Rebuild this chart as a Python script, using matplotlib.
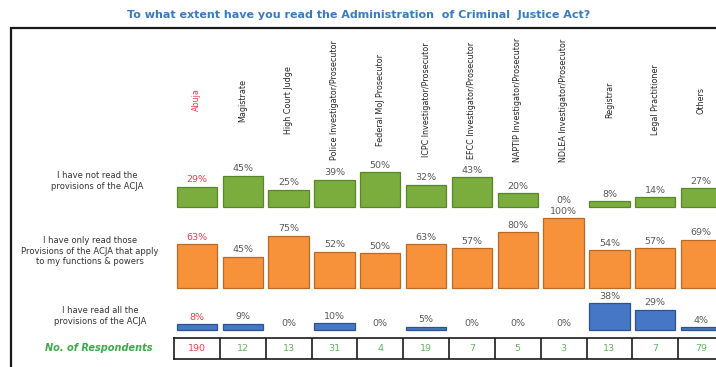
import matplotlib
matplotlib.use("Agg")
import matplotlib.pyplot as plt
from matplotlib.patches import Rectangle
from matplotlib.transforms import blended_transform_factory

# ---- data -------------------------------------------------------------
categories = ["Abuja", "Magistrate", "High Court Judge", "Police Investigator/Prosecutor",
              "Federal MoJ Prosecutor", "ICPC Investigator/Prosecutor",
              "EFCC Investigator/Prosecutor", "NAPTIP Investigator/Prosecutor",
              "NDLEA Investigator/Prosecutor", "Registrar", "Legal Practitioner", "Others"]
not_read = [29, 45, 25, 39, 50, 32, 43, 20, 0, 8, 14, 27]
read_some = [63, 45, 75, 52, 50, 63, 57, 80, 100, 54, 57, 69]
read_all = [8, 9, 0, 10, 0, 5, 0, 0, 0, 38, 29, 4]
respondents = [190, 12, 13, 31, 4, 19, 7, 5, 3, 13, 7, 79]

row_labels = ["I have not read the\nprovisions of the ACJA",
              "I have only read those\nProvisions of the ACJA that apply\nto my functions & powers",
              "I have read all the\nprovisions of the ACJA"]
title = "To what extent have you read the Administration  of Criminal  Justice Act?"

# ---- styling ------------------------------------------------------------
W, H = 716, 367
fills = ["#7aad3d", "#f7923a", "#4677c6"]
edges = ["#5a8529", "#b96a28", "#2c5290"]
label_grey = "#595959"
accent_red = "#e8404c"
resp_green = "#5cb85c"

fig = plt.figure(figsize=(W / 100, H / 100), dpi=100)
fig.patch.set_facecolor("white")


def fx(px):
    return px / W


def fy(py):
    return 1 - py / H


# plot area shared x geometry (in pixels)
left_px, right_px = 174, 724
n = len(categories)

# outer frame
fig.add_artist(Rectangle((fx(11), fy(400)), fx(760), fy(28) - fy(400),
                         transform=fig.transFigure, fill=False,
                         edgecolor="#1a1a1a", linewidth=1.6))

fig.text(fx(359), fy(15), title, ha="center", va="center",
         fontsize=8, fontweight="bold", color="#3a7bbf")

# three bar rows; each axis spans 0..100 % over 70 px
baselines = [207, 288, 330]
series = [not_read, read_some, read_all]
row_label_pos = [(97, 181), (90, 251), (100, 316)]
axes = []
for k, (base, vals) in enumerate(zip(baselines, series)):
    ax = fig.add_axes([fx(left_px), fy(base), fx(right_px - left_px), fy(base - 70) - fy(base)])
    ax.set_xlim(-0.5, n - 0.5)
    ax.set_ylim(0, 100)
    ax.axis("off")
    ax.patch.set_alpha(0)
    xs = list(range(n))
    ax.bar(xs, vals, width=0.88, color=fills[k], edgecolor=edges[k],
           linewidth=[0.9 if v > 0 else 0 for v in vals], clip_on=False)
    for i, v in enumerate(vals):
        ax.annotate(f"{v}%", (i, v), xytext=(0, 1.6), textcoords="offset points",
                    ha="center", va="bottom", fontsize=6.8,
                    color=accent_red if i == 0 else label_grey, annotation_clip=False)
    lx, ly = row_label_pos[k]
    fig.text(fx(lx), fy(ly), row_labels[k], ha="center", va="center",
             fontsize=6, color="#333333", linespacing=1.25)
    axes.append(ax)

# rotated category names above the first row
tr = blended_transform_factory(axes[0].transData, fig.transFigure)
for i, name in enumerate(categories):
    axes[0].text(i, fy(100), name, transform=tr, rotation=90,
                 ha="center", va="center", fontsize=5.8,
                 color=accent_red if i == 0 else "#262626", clip_on=False)

# respondents table
tax = fig.add_axes([fx(left_px), fy(359), fx(right_px - left_px), fy(338) - fy(359)])
tax.set_xlim(-0.5, n - 0.5)
tax.set_ylim(0, 1)
tax.set_xticks([])
tax.set_yticks([])
for s in tax.spines.values():
    s.set_linewidth(1.2)
    s.set_color("#1a1a1a")
tax.vlines([i + 0.5 for i in range(n - 1)], 0, 1, color="#1a1a1a", linewidth=1.2)
for i, r in enumerate(respondents):
    tax.text(i, 0.5, str(r), ha="center", va="center", fontsize=6.8,
             color=accent_red if i == 0 else resp_green)

fig.text(fx(99), fy(348), "No. of Respondents", ha="center", va="center",
         fontsize=7, fontweight="bold", fontstyle="italic", color="#3aaa4a")

fig.savefig("out.png", dpi=100, facecolor="white")
